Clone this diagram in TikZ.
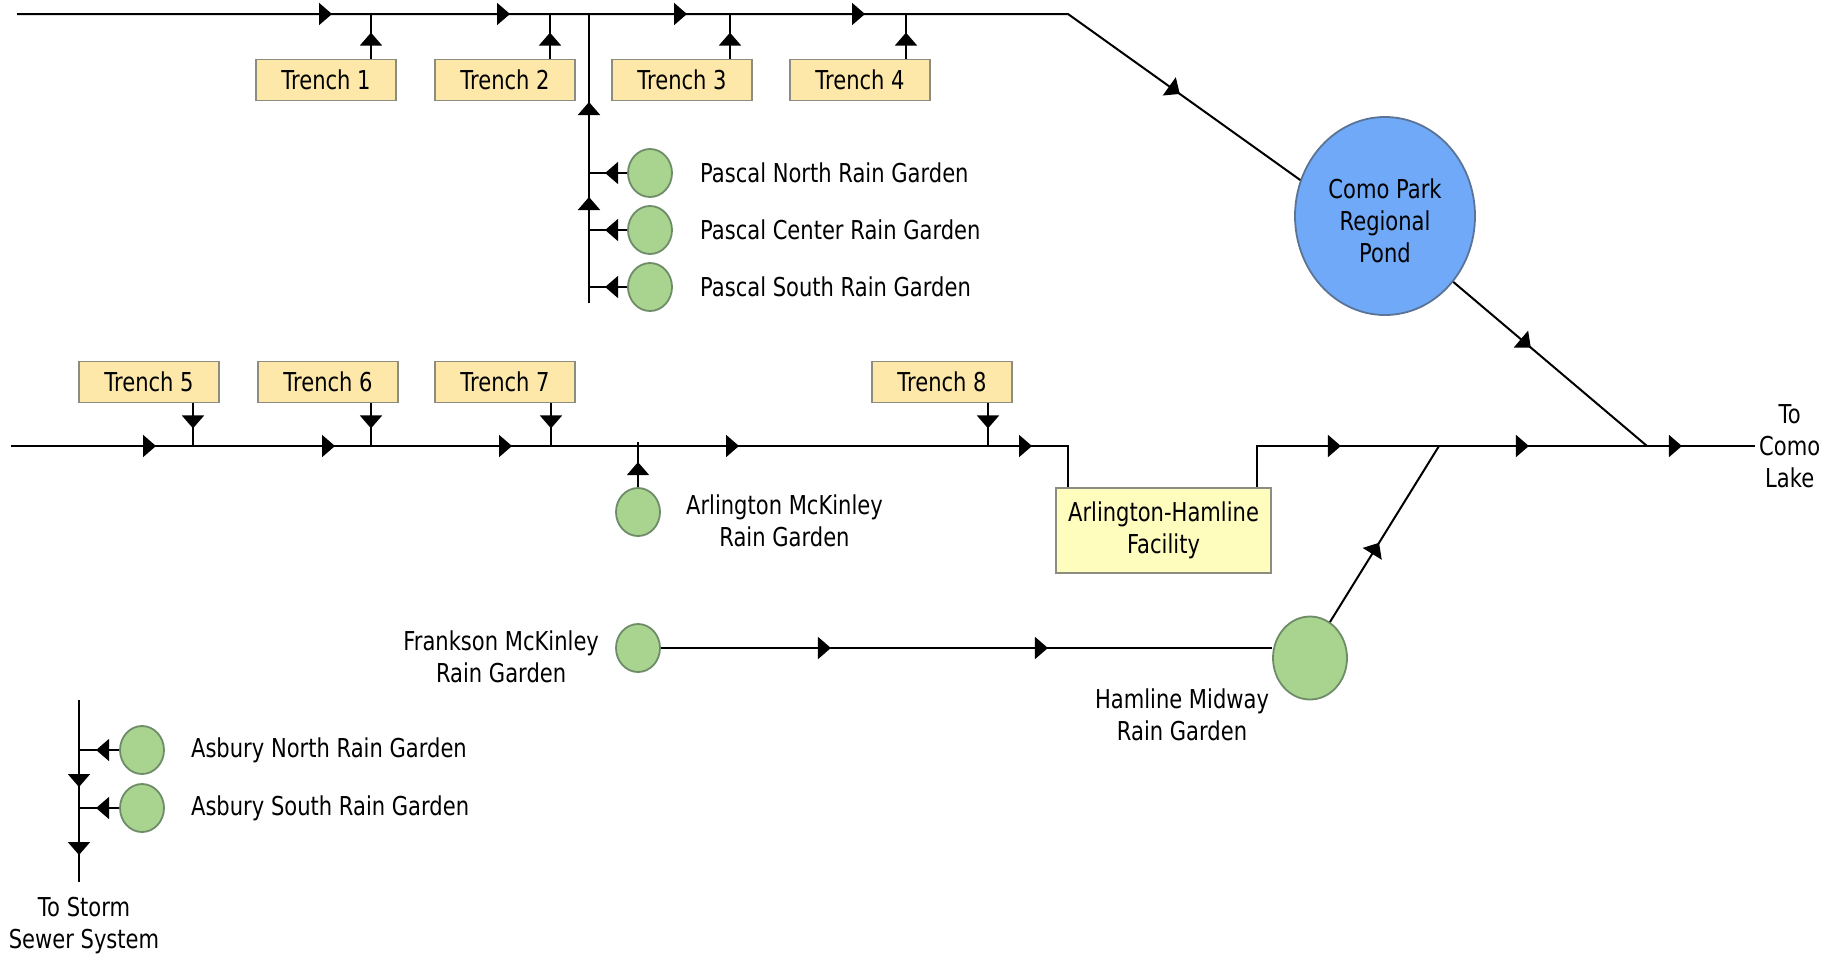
\documentclass[tikz,border=0pt]{standalone}
\usepackage{fontspec}
\setmainfont{DejaVu Sans}[FakeStretch=0.81]
\usepackage{tikz}
\usetikzlibrary{arrows.meta,positioning,shapes.geometric,decorations.markings}

\definecolor{trenchfill}{HTML}{FDE8A9}
\definecolor{facfill}{HTML}{FFFDBE}
\definecolor{gardenfill}{HTML}{A9D48F}
\definecolor{gardenline}{HTML}{6E8C68}
\definecolor{pondfill}{HTML}{6FA9F7}
\definecolor{pondline}{HTML}{5B7397}
\definecolor{boxline}{HTML}{8C8C80}

\tikzstyle{pipe}=[line width=2pt,black]
\tikzstyle{flow}=[postaction={decorate,decoration={markings,mark=at position #1 with {\arrow{Triangle[length=13pt,width=22pt]}}}}]
\tikzstyle{trench}=[draw=boxline,line width=1.8pt,fill=trenchfill,minimum width=140pt,minimum height=41pt,inner sep=0pt]
\tikzstyle{facility}=[draw=boxline,line width=1.8pt,fill=facfill,minimum width=215pt,minimum height=85pt,align=center]
\tikzstyle{garden}=[draw=gardenline,line width=1.8pt,fill=gardenfill,ellipse,minimum width=44pt,minimum height=48pt,inner sep=0pt]
\tikzstyle{pond}=[draw=pondline,line width=1.8pt,fill=pondfill,ellipse,minimum width=180pt,minimum height=198pt,inner sep=0pt]
\tikzstyle{lbl}=[inner sep=3pt,align=center]

\begin{document}
\begin{tikzpicture}[x=1pt,y=-1pt,every node/.style={font=\fontsize{26}{32}\selectfont}]
\useasboundingbox (0,0) rectangle (1835,954);

% top trenches
\node[trench] (t1) at (326,80) {Trench 1};
\node[trench] (t2) at (505,80) {Trench 2};
\node[trench] (t3) at (682,80) {Trench 3};
\node[trench] (t4) at (860,80) {Trench 4};

% regional pond
\node[pond] (pond) at (1385,216) {};
\node[lbl] (pondlbl) at (1385,221) {Como Park\\Regional\\Pond};

% top line
\coordinate (tin) at (17,14);
\coordinate (j1) at (371,14);
\coordinate (j2) at (550,14);
\coordinate (jp) at (589,14);
\coordinate (j3) at (730,14);
\coordinate (j4) at (906,14);
\coordinate (tc) at (1068,14);
\draw[pipe,flow=315pt,flow=493pt,flow=670pt,flow=848pt,flow=-148pt]
	(tin) -- (j1) -- (j2) -- (jp) -- (j3) -- (j4) -- (tc) -- (pond.157);
\draw[pipe,flow=26pt] (t1.north -| j1) -- (j1);
\draw[pipe,flow=26pt] (t2.north -| j2) -- (j2);
\draw[pipe,flow=26pt] (t3.north -| j3) -- (j3);
\draw[pipe,flow=26pt] (t4.north -| j4) -- (j4);

% pascal rain gardens
\node[garden] (pn) at (650,173) {};
\node[garden] (pc) at (650,230) {};
\node[garden] (ps) at (650,287) {};
\node[lbl,right=24pt of pn] (pnlbl) {Pascal North Rain Garden};
\node[lbl,right=24pt of pc] (pclbl) {Pascal Center Rain Garden};
\node[lbl,right=24pt of ps] (pslbl) {Pascal South Rain Garden};
\coordinate (p1) at (589,173);
\coordinate (p2) at (589,230);
\coordinate (p3) at (589,287);
\coordinate (pb) at (589,303);
\draw[pipe,flow=106pt,flow=201pt] (pb) -- (p3) -- (p2) -- (p1) -- (jp);
\draw[pipe,flow=22pt] (pn.west) -- (p1);
\draw[pipe,flow=22pt] (pc.west) -- (p2);
\draw[pipe,flow=22pt] (ps.west) -- (p3);

% lower trenches
\node[trench] (t5) at (149,382) {Trench 5};
\node[trench] (t6) at (328,382) {Trench 6};
\node[trench] (t7) at (505,382) {Trench 7};
\node[trench] (t8) at (942,382) {Trench 8};

% arlington-hamline facility
\node[facility] (fac) at (1163.5,530.5) {Arlington-Hamline\\Facility};

% lower line
\coordinate (lin) at (11,446);
\coordinate (j5) at (193,446);
\coordinate (j6) at (371,446);
\coordinate (j7) at (551,446);
\coordinate (ja) at (638,446);
\coordinate (j8) at (988,446);
\coordinate (lc) at (1068,446);
\draw[pipe,flow=145pt,flow=324pt,flow=501pt,flow=728pt,flow=1021pt]
	(lin) -- (j5) -- (j6) -- (j7) -- (ja) -- (j8) -- (lc) -- (fac.north -| lc);
\draw[pipe,flow=25pt] (t5.south -| j5) -- (j5);
\draw[pipe,flow=25pt] (t6.south -| j6) -- (j6);
\draw[pipe,flow=25pt] (t7.south -| j7) -- (j7);
\draw[pipe,flow=25pt] (t8.south -| j8) -- (j8);

% arlington mckinley rain garden
\node[garden] (am) at (638,512) {};
\node[lbl,right=22pt of am,yshift=-9pt] (amlbl) {Arlington McKinley\\Rain Garden};
\draw[pipe,flow=25pt] (am.north) -- ([yshift=4pt]ja);

% outlet to como lake
\node[lbl,anchor=west,inner sep=4pt] (lake) at (1755,446) {To\\Como\\Lake};
\coordinate (rc) at (1257,446);
\coordinate (jh) at (1439,446);
\coordinate (jl) at (1647,446);
\draw[pipe,flow=125pt,flow=313pt,flow=466pt]
	(fac.north -| rc) -- (rc) -- (jh) -- (jl) -- (lake.west);
\draw[pipe,flow=0.4] (pond.-44) -- (jl);

% hamline midway and frankson mckinley
\node[garden,minimum width=74pt,minimum height=83pt] (hm) at (1310,658) {};
\node[lbl] (hmlbl) at (1182,715) {Hamline Midway\\Rain Garden};
\node[garden] (fm) at (638,648) {};
\node[lbl,left=13pt of fm,yshift=-9pt] (fmlbl) {Frankson McKinley\\Rain Garden};
\draw[pipe,flow=170pt,flow=387pt] (fm.east) -- (hm.west |- fm.east);
\draw[pipe,flow=0.45] (hm.61) -- (jh);

% asbury rain gardens
\node[garden] (abn) at (142,750) {};
\node[garden] (abs) at (142,808) {};
\node[lbl,right=23pt of abn] (abnlbl) {Asbury North Rain Garden};
\node[lbl,right=23pt of abs] (abslbl) {Asbury South Rain Garden};
\coordinate (ab0) at (79,700);
\coordinate (a1) at (79,750);
\coordinate (a2) at (79,808);
\coordinate (ab3) at (79,882);
\draw[pipe,flow=87pt,flow=155pt] (ab0) -- (a1) -- (a2) -- (ab3);
\draw[pipe,flow=23pt] (abn.west) -- (a1);
\draw[pipe,flow=23pt] (abs.west) -- (a2);
\node[lbl,below=12pt of ab3,xshift=5pt] (storm) {To Storm\\Sewer System};
\end{tikzpicture}
\end{document}
